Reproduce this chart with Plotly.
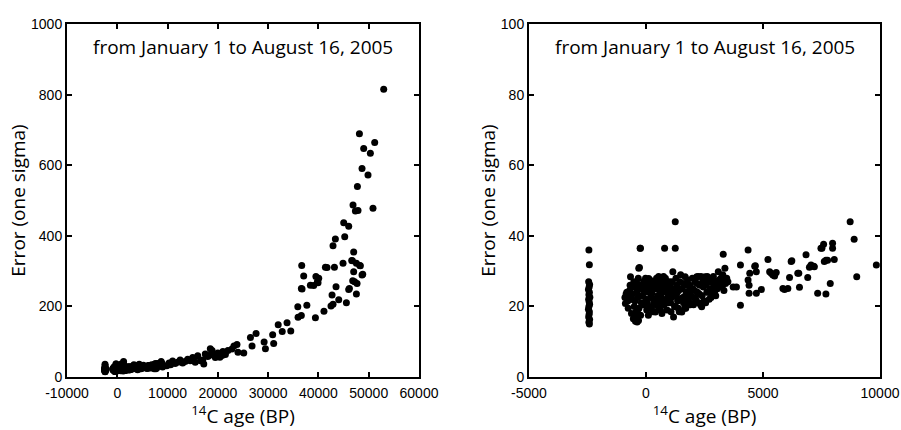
import plotly.graph_objects as go

# ---- data: 14C age (BP) and one-sigma error ----
# samples younger than 10000 BP (read from the right-hand enlargement)
young_age = [
    -2440, -2420, -2450, -2410, -2430, -2460, -2420, -2440, -2400, -2450,
    -2430, -2410, -2440, -2460, -2420, -2430, -2450, -2410, -2440, -2420,
    -900, -880, -850, -780, -700, -663, -650, -600, -550, -500, -480, -450,
    -420, -400, -380, -380, -350, -320, -310, -300, -280, -250, -238, -220,
    -200, -150, -100, -50,
    0, 30, 80, 115, 120, 150, 200, 255, 280, 300, 350, 400, 400, 450, 500, 520,
    550, 600, 620, 650, 700, 720, 750, 795, 800, 850, 880, 900, 950, 1000,
    1050, 1080, 1100, 1147, 1177, 1200, 1250, 1250, 1260, 1300, 1320, 1350,
    1400, 1420, 1450, 1500, 1530, 1550, 1600, 1673, 1680, 1700, 1750, 1800,
    1850, 1900, 1954, 2000, 2050, 2100, 2166, 2200, 2250, 2300, 2350, 2380,
    2400, 2450, 2523, 2550, 2600, 2650, 2700, 2750, 2804, 2850, 2900, 2950,
    3000, 3050, 3088, 3150, 3200, 3250, 3300, 3373, 3373, 3400, 3450, 3500,
    3725, 3866, 4036, 4036, 4363, 4363, 4405, 4405, 4434, 4647, 4673, 4715,
    4715, 4928, 5212, 5284, 5353, 5424, 5496, 5566, 5850, 5921, 6062, 6134,
    6203, 6232, 6486, 6529, 6558, 6839, 6911, 6984, 7052, 7166, 7194, 7336,
    7476, 7519, 7590, 7620, 7689, 7689, 7760, 7874, 7973, 7973, 8045, 8725,
    8895, 9006, 9843,
]
young_err = [
    36.0, 31.8, 27.0, 26.2, 25.5, 24.8, 24.0, 23.3, 22.6, 22.0,
    21.3, 20.6, 20.0, 19.2, 18.5, 17.8, 17.0, 16.3, 15.5, 15.0,
    22.5, 20.8, 23.5, 21.5, 24.5, 28.4, 22.0, 22.0, 25.5, 20.0, 17.0, 15.8,
    18.5, 24.0, 26.5, 15.6, 22.5, 16.0, 30.8, 19.5, 31.0, 36.5, 36.5, 25.0,
    21.0, 23.0, 27.0, 24.0,
    22.0, 19.0, 26.0, 27.9, 24.0, 20.0, 22.5, 23.7, 27.0, 18.5, 21.0, 25.0, 18.4, 28.0, 23.0, 20.0,
    26.0, 24.0, 19.0, 27.0, 22.0, 25.0, 28.5, 36.5, 21.0, 24.0, 26.5, 19.0, 23.0, 27.0,
    21.0, 24.0, 22.5, 29.8, 17.0, 25.0, 44.0, 36.5, 20.0, 23.0, 26.0, 21.5,
    24.5, 18.5, 27.0, 22.0, 18.4, 25.0, 21.0, 28.4, 23.0, 19.5, 26.0, 22.0,
    24.5, 20.5, 20.8, 25.0, 22.5, 27.0, 28.4, 24.0, 21.0, 26.0, 28.5, 19.9,
    23.0, 25.5, 28.4, 21.0, 24.0, 27.0, 22.0, 25.0, 27.9, 23.5, 26.0, 24.5,
    27.0, 25.0, 29.8, 26.0, 28.0, 25.5, 34.8, 30.8, 27.5, 26.5, 28.0, 27.0,
    25.5, 25.5, 31.7, 20.3, 36.0, 27.5, 26.0, 23.7, 29.4, 31.4, 31.5, 23.7,
    29.8, 24.8, 33.3, 29.8, 29.4, 28.9, 28.6, 29.6, 25.1, 24.8, 25.1, 28.2,
    32.7, 32.9, 29.4, 29.4, 25.4, 34.6, 28.2, 31.1, 31.7, 31.4, 31.2, 23.7,
    36.5, 36.5, 37.6, 32.7, 33.1, 23.5, 33.1, 26.5, 37.9, 36.5, 33.3, 44.0,
    39.0, 28.4, 31.7,
]

# further samples inside the dense cluster between about -900 and 3500 BP
dense_age = [
    -820, -760, -720, -680, -620, -580, -540, -520, -470, -430, -360, -330,
    -270, -230, -180, -120, -80, -20, 20, 60, 100, 170, 230, 270, 330, 380,
    430, 480, 540, 580, 630, 680, 740, 770, 830, 860, 920, 970, 1020, 1070,
    1120, 1160, 1220, 1280, 1330, 1380, 1440, 1480, 1570, 1620, 1650, 1720,
    1780, 1830, 1880, 1930, 1980, 2030, 2080, 2130, 2180, 2230, 2280, 2330,
    2420, 2480, 2570, 2620, 2680, 2730, 2780, 2880, 2930, 2980, 3120, 3220,
    3280, 3330,
]
dense_err = [
    24.0, 19.5, 22.5, 26.0, 18.0, 23.5, 16.5, 27.0, 21.5, 25.5, 19.0, 28.0,
    23.0, 17.5, 26.0, 20.5, 24.5, 28.0, 25.0, 21.0, 17.5, 27.5, 19.5, 25.5,
    22.0, 27.0, 20.5, 25.5, 28.5, 21.5, 23.0, 18.0, 26.0, 20.5, 28.0, 22.0,
    25.0, 21.0, 26.0, 18.5, 27.0, 23.0, 20.0, 28.0, 24.0, 19.5, 25.0, 29.0,
    22.5, 26.5, 19.5, 24.0, 27.5, 21.0, 26.0, 23.0, 28.0, 20.5, 24.5, 22.0,
    26.5, 28.5, 23.5, 20.5, 27.0, 21.5, 26.0, 28.5, 24.0, 27.0, 22.5, 28.5,
    26.0, 23.0, 27.5, 26.0, 29.0, 24.5,
]

# samples older than 10000 BP
old_age = [
    10300, 10600, 11000, 11500, 12000, 12500, 13000, 13500, 14000, 14500,
    15000, 15500, 16000, 16540, 17000, 17200, 17500, 18000, 18190, 18500,
    18850, 19000, 19500, 20000, 20400, 20840, 21000, 21500, 22000, 22800,
    23200, 23800, 24000, 25150, 26480, 26800, 27600, 29200, 29460, 30900,
    31100, 32000, 32800, 33760, 34500, 35900, 35950, 36600, 36610, 36680,
    36740, 37070, 37700, 38400, 39060, 39400, 39500, 39800, 39920, 40060,
    41100, 41390, 41710, 42500, 42710, 42900, 42900, 43180, 43370, 43500,
    44040, 44890, 45030, 45230, 45560, 46020, 46020, 46160, 46620, 46760,
    46820, 46880, 47010, 47010, 47200, 47350, 47550, 47550, 47680, 47750,
    47870, 48150, 48210, 48340, 48670, 48670, 48810, 49000, 49860, 50330,
    50850, 51190, 52980,
]
old_err = [
    40, 35, 45, 38, 42, 48, 40, 44, 50, 46,
    55, 42, 60, 46, 48, 37, 65, 58, 61, 80,
    75, 62, 55, 68, 56, 61, 72, 64, 75, 79,
    88, 92, 70, 68, 112, 88, 123, 99, 80, 120,
    95, 148, 129, 154, 130, 199, 169, 174, 251, 316,
    249, 286, 203, 260, 259, 168, 285, 270, 267, 280,
    186, 311, 310, 201, 232, 206, 372, 311, 391, 256,
    219, 322, 437, 397, 210, 248, 427, 251, 330, 329,
    273, 487, 298, 354, 270, 470, 235, 322, 265, 540,
    472, 689, 316, 315, 289, 591, 291, 647, 572, 634,
    478, 664, 815,
]

title_text = "from January 1 to August 16, 2005"
x_title = "<sup>14</sup>C age (BP)"
y_title = "Error (one sigma)"
left_xticks = [-10000, 0, 10000, 20000, 30000, 40000, 50000, 60000]
left_yticks = [0, 200, 400, 600, 800, 1000]
right_xticks = [-5000, 0, 5000, 10000]
right_yticks = [0, 20, 40, 60, 80, 100]

ages = young_age + dense_age + old_age
errs = young_err + dense_err + old_err

fig = go.Figure()
marker = dict(color="black", size=7, line=dict(width=0))
fig.add_trace(go.Scatter(x=ages, y=errs, mode="markers", marker=marker,
                         xaxis="x", yaxis="y", showlegend=False))
fig.add_trace(go.Scatter(x=ages, y=errs, mode="markers", marker=marker,
                         xaxis="x2", yaxis="y2", showlegend=False))

font_family = "Open Sans, Liberation Sans, sans-serif"
tick_font = dict(family="Liberation Sans, Arial, sans-serif", size=14, color="black")
title_font = dict(family=font_family, size=19, color="black")

common_axis = dict(showline=True, linecolor="black", linewidth=2, mirror="ticks",
                   ticks="inside", ticklen=5, tickwidth=1.5, tickcolor="black",
                   showgrid=False, zeroline=False, tickfont=tick_font,
                   title_font=title_font, automargin=False,
                   ticklabeloverflow="allow")

W, H = 901, 430
ytop = (H - 24) / H
ybot = (H - 377) / H


def labels(vals):
    return [str(v) for v in vals]


fig.update_layout(
    width=W, height=H,
    margin=dict(l=0, r=0, t=0, b=0),
    paper_bgcolor="white", plot_bgcolor="white",
    xaxis=dict(domain=[67 / W, 419 / W], range=[-10000, 60000],
               tickvals=left_xticks, ticktext=labels(left_xticks), anchor="y",
               ticklabelstandoff=2,
               title=dict(text=x_title, standoff=3), **common_axis),
    yaxis=dict(domain=[ybot, ytop], range=[0, 1000], tickvals=left_yticks,
               ticktext=labels(left_yticks), anchor="x",
               title=dict(text=y_title, standoff=0), **common_axis),
    xaxis2=dict(domain=[529 / W, 880 / W], range=[-5000, 10000],
                tickvals=right_xticks, ticktext=labels(right_xticks), anchor="y2",
                ticklabelstandoff=2,
                title=dict(text=x_title, standoff=3), **common_axis),
    yaxis2=dict(domain=[ybot, ytop], range=[0, 100], tickvals=right_yticks,
                ticktext=labels(right_yticks), anchor="x2",
                title=dict(text=y_title, standoff=0), **common_axis),
    annotations=[
        dict(text=title_text, xref="x domain", yref="y domain", x=0.5, y=0.935,
             xanchor="center", yanchor="middle", showarrow=False,
             font=dict(family=font_family, size=19, color="black")),
        dict(text=title_text, xref="x2 domain", yref="y2 domain", x=0.5, y=0.935,
             xanchor="center", yanchor="middle", showarrow=False,
             font=dict(family=font_family, size=19, color="black")),
    ],
)

# remove the page's default 8 px body margin so the figure fills the window
fig.write_html("out.html",
               config={"displayModeBar": False},
               post_script="document.body.style.margin='0px';"
                           "document.body.style.overflow='hidden';")
